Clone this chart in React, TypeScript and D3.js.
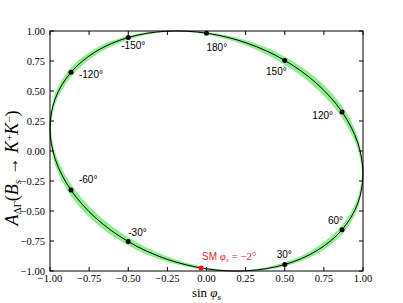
import * as d3 from "d3";

// phi_s grid (degrees) with values
const phiDeg = [-180, -165, -150, -135, -120, -105, -90, -75, -60, -45, -30, -15, 0, 15, 30, 45, 60, 75, 90, 105, 120, 135, 150, 165];
const sinPhi = [0, -0.259, -0.5, -0.707, -0.866, -0.966, -1, -0.966, -0.866, -0.707, -0.5, -0.259, 0, 0.259, 0.5, 0.707, 0.866, 0.966, 1, 0.966, 0.866, 0.707, 0.5, 0.259];
const aCentral = [0.982, 0.998, 0.946, 0.829, 0.656, 0.438, 0.191, -0.07, -0.326, -0.559, -0.755, -0.899, -0.982, -0.998, -0.946, -0.829, -0.656, -0.438, -0.191, 0.07, 0.326, 0.559, 0.755, 0.899];
const aBandLo = [0.99, 0.993, 0.927, 0.799, 0.616, 0.391, 0.139, -0.122, -0.375, -0.602, -0.788, -0.921, -0.99, -0.993, -0.927, -0.799, -0.616, -0.391, -0.139, 0.122, 0.375, 0.602, 0.788, 0.921];
const aBandHi = [0.97, 1.0, 0.961, 0.857, 0.695, 0.485, 0.242, -0.017, -0.276, -0.515, -0.719, -0.875, -0.97, -1.0, -0.961, -0.857, -0.695, -0.485, -0.242, 0.017, 0.276, 0.515, 0.719, 0.875];

const markedPhi = [180, 150, 120, 60, 30, -30, -60, -120, -150];

const smPhi = -2;
const smSin = -0.035;
const smA = -0.974;

const tickValues = [-1, -0.75, -0.5, -0.25, 0, 0.25, 0.5, 0.75, 1];

const W = 403;
const H = 303;
const M = { left: 50, right: 40, top: 31, bottom: 32 };

// label placement relative to marker: dx, dy, anchor
const labelPos: Record<number, [number, number, string]> = {
  180: [0, 18, "start"],
  150: [2, 15, "end"],
  120: [-9, 7, "end"],
  60: [1, -6, "end"],
  30: [-8, -7, "start"],
  [-30]: [0, -6, "start"],
  [-60]: [8, -7, "start"],
  [-120]: [8, 6, "start"],
  [-150]: [-7, 12, "start"],
};

const serif = "'Liberation Serif', 'DejaVu Serif', serif";
const sans = "'Liberation Sans', Arial, sans-serif";

export default function App() {
  const x = d3.scaleLinear().domain([-1, 1]).range([M.left, W - M.right]);
  const y = d3.scaleLinear().domain([-1, 1]).range([H - M.bottom, M.top]);
  const fmt = d3.format(".2f");

  const idx = d3.range(phiDeg.length);
  const line = d3
    .line<number>()
    .x((i) => x(sinPhi[i]))
    .y((i) => y(aCentral[i]))
    .curve(d3.curveCatmullRomClosed);

  const area = d3
    .area<number>()
    .x((i) => x(sinPhi[i]))
    .y0((i) => y(aBandLo[i]))
    .y1((i) => y(aBandHi[i]))
    .curve(d3.curveCatmullRom);

  const i90m = phiDeg.indexOf(-90);
  const i90 = phiDeg.indexOf(90);
  const piece1 = d3.range(i90m, i90 + 1);
  const piece2 = [...d3.range(i90, phiDeg.length), ...d3.range(0, i90m + 1)];

  const [x0, x1] = x.range();
  const [yb, yt] = y.range();
  const tl = 4;

  return (
    <svg width={W} height={H} style={{ position: "absolute", left: 0, top: 0 }}>
      <rect width={W} height={H} fill="white" />
      <g>
        <path d={area(piece1) ?? ""} fill="#90ee90" stroke="none" />
        <path d={area(piece2) ?? ""} fill="#90ee90" stroke="none" />
        <path d={line(idx) ?? ""} fill="none" stroke="black" strokeWidth={1} />
      </g>
      {markedPhi.map((p) => {
        const i = phiDeg.indexOf(p === 180 ? -180 : p);
        const px = x(sinPhi[i]);
        const py = y(aCentral[i]);
        const [dx, dy, anchor] = labelPos[p];
        return (
          <g key={p}>
            <circle cx={px} cy={py} r={2.5} fill="black" />
            <text x={px + dx} y={py + dy} fontFamily={sans} fontSize={10} textAnchor={anchor as any}>
              {`${p}°`}
            </text>
          </g>
        );
      })}
      <circle cx={x(smSin)} cy={y(smA)} r={2.5} fill="#e31a1c" />
      <text x={x(smSin) + 1} y={y(smA) - 8} fill="#e8282b" fontSize={10}>
        <tspan fontFamily={sans}>SM </tspan>
        <tspan fontFamily={serif} fontStyle="italic" fontSize={11}>φ</tspan>
        <tspan fontFamily={serif} fontStyle="italic" fontSize={7} dy={2}>s</tspan>
        <tspan fontFamily={serif} fontSize={11} dy={-2}>{` = −${Math.abs(smPhi)}°`}</tspan>
      </text>
      {/* frame */}
      <rect x={x0} y={yt} width={x1 - x0} height={yb - yt} fill="none" stroke="black" strokeWidth={1} />
      {tickValues.map((t) => (
        <g key={`x${t}`}>
          <line x1={x(t)} x2={x(t)} y1={yb} y2={yb - tl} stroke="black" />
          <line x1={x(t)} x2={x(t)} y1={yt} y2={yt + tl} stroke="black" />
          <text x={x(t)} y={yb + 11} fontFamily={serif} fontSize={10.5} textAnchor="middle">
            {fmt(t)}
          </text>
        </g>
      ))}
      {tickValues.map((t) => (
        <g key={`y${t}`}>
          <line x1={x0} x2={x0 + tl} y1={y(t)} y2={y(t)} stroke="black" />
          <line x1={x1} x2={x1 - tl} y1={y(t)} y2={y(t)} stroke="black" />
          <text x={x0 - 5} y={y(t) + 3.5} fontFamily={serif} fontSize={10.5} textAnchor="end">
            {fmt(t)}
          </text>
        </g>
      ))}
      <text x={(x0 + x1) / 2} y={297} fontFamily={serif} fontSize={13} textAnchor="middle">
        <tspan>sin </tspan>
        <tspan fontStyle="italic">φ</tspan>
        <tspan fontStyle="italic" fontSize={9} dy={3}>s</tspan>
      </text>
      <text transform="translate(18,168) rotate(-90)" fontFamily={serif} fontSize={18} textAnchor="middle">
        <tspan fontStyle="italic">A</tspan>
        <tspan fontSize={11} dy={3}>ΔΓ</tspan>
        <tspan dy={-3}>(</tspan>
        <tspan fontStyle="italic">B</tspan>
        <tspan fontStyle="italic" fontSize={11} dy={3}>s</tspan>
        <tspan dy={-3}>{" → "}</tspan>
        <tspan fontStyle="italic">K</tspan>
        <tspan fontSize={11} dy={-5}>+</tspan>
        <tspan fontStyle="italic" dy={5}>K</tspan>
        <tspan fontSize={11} dy={-5}>−</tspan>
        <tspan dy={5}>)</tspan>
      </text>
    </svg>
  );
}
